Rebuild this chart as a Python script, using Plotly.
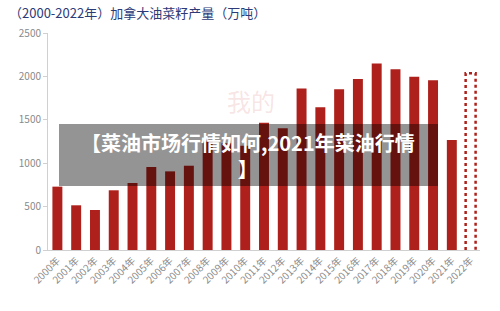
import plotly.graph_objects as go

years = [f"{y}年" for y in range(2000, 2023)]
values = [730, 515, 461, 688, 772, 956, 906, 971, 1250, 1230, 1200,
          1466, 1402, 1862, 1644, 1851, 1970, 2150, 2081, 1997, 1955, 1267, 2035]
forecast_flags = [False] * 22 + [True]

bar_color = "#ae201b"
bar_w = 0.53

xs = list(range(len(years)))
solid_x = [x for x, f in zip(xs, forecast_flags) if not f]
solid_y = [v for v, f in zip(values, forecast_flags) if not f]

fig = go.Figure()
fig.add_trace(go.Bar(x=solid_x, y=solid_y, width=bar_w,
                     marker=dict(color=bar_color, line=dict(width=0)),
                     showlegend=False, hoverinfo="skip"))

for x, v, f in zip(xs, values, forecast_flags):
    if f:
        h = bar_w / 2
        fig.add_trace(go.Scatter(x=[x - h, x - h, x + h, x + h],
                                 y=[0, v, v, 0], mode="lines",
                                 line=dict(color=bar_color, width=2.5, dash="dot"),
                                 showlegend=False, hoverinfo="skip"))

fig.update_layout(
    width=500, height=311,
    margin=dict(l=48, r=20, t=33, b=61),
    paper_bgcolor="white", plot_bgcolor="white",
    font=dict(family="Noto Sans CJK SC, Noto Sans, sans-serif", color="#888888", size=10),
    xaxis=dict(range=[-0.5, len(years) - 0.5], tickmode="array",
               tickvals=xs, ticktext=years, tickangle=-45,
               showgrid=False, zeroline=False, showline=True,
               linecolor="#d0d0d0", linewidth=1, ticks="",
               tickfont=dict(size=10, color="#8a8a8a")),
    yaxis=dict(range=[0, 2500], tickvals=[0, 500, 1000, 1500, 2000, 2500],
               showgrid=False, zeroline=False, showline=True,
               linecolor="#d0d0d0", linewidth=1, ticks="outside",
               ticklen=4, tickcolor="#d0d0d0",
               tickfont=dict(size=10, color="#8a8a8a")),
    bargap=0.47,
)

fig.add_annotation(text="（2000-2022年）加拿大油菜籽产量（万吨）", xref="paper", yref="paper",
                   x=-0.095, y=1.0, yshift=21, xanchor="left", yanchor="middle",
                   showarrow=False,
                   font=dict(size=13, color="#2c3a78", family="Noto Sans CJK SC"))

# faint watermark
fig.add_annotation(text="我的", xref="paper", yref="paper",
                   x=0.47, y=0.69, xanchor="center", yanchor="middle", showarrow=False,
                   font=dict(size=24, color="rgba(200,60,60,0.15)", family="Noto Sans CJK SC"))

# overlay banner
fig.add_shape(type="rect", xref="paper", yref="paper",
              x0=(59 - 48) / 432, x1=(438 - 48) / 432,
              y0=(250 - 186) / 217, y1=(250 - 124) / 217,
              fillcolor="rgba(0,0,0,0.42)", line=dict(width=0), layer="above")
fig.add_annotation(text="<b>【菜油市场行情如何,2021年菜油行情<br>】</b>",
                   xref="paper", yref="paper",
                   x=(248 - 48) / 432, y=(250 - 155) / 217,
                   xanchor="center", yanchor="middle", showarrow=False,
                   font=dict(size=20, color="white", family="Noto Sans CJK SC"),
                   align="center")

fig.write_html("out.html")
